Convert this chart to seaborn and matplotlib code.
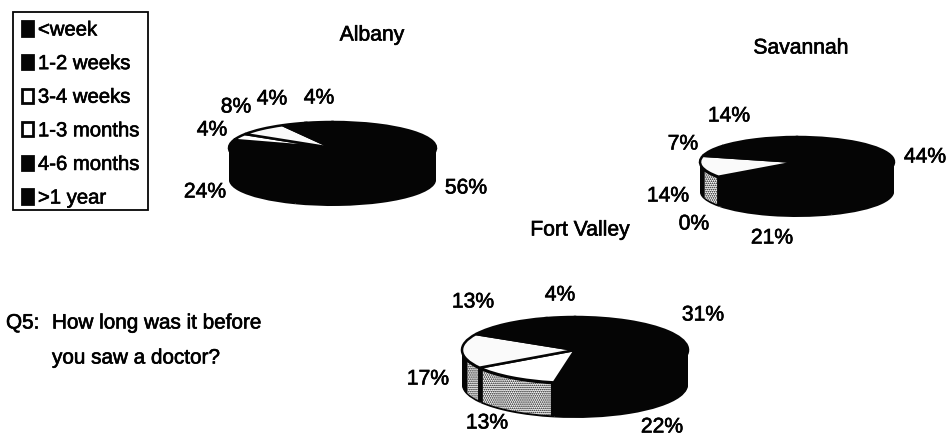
import numpy as np
import matplotlib
matplotlib.use("Agg")
import matplotlib.pyplot as plt
from matplotlib.patches import Patch, Rectangle
import matplotlib.patheffects as pe
import seaborn as sns

categories = ["<week", "1-2 weeks", "3-4 weeks", "1-3 months", "4-6 months", ">1 year"]
albany = [56, 24, 4, 8, 4, 4]
savannah = [44, 21, 0, 14, 7, 14]
fort_valley = [31, 22, 13, 17, 13, 4]

W, H = 947, 438
sns.set_theme(style="white")
plt.rcParams["font.family"] = ["Liberation Sans", "DejaVu Sans"]
plt.rcParams["hatch.linewidth"] = 0.8
fig = plt.figure(figsize=(W / 100, H / 100), dpi=100, facecolor="white")

BLACK = "#050505"
top_palette = sns.color_palette([BLACK, BLACK, "white", "#fafafa", BLACK, BLACK])
FS = 15.2
heavy = [pe.withStroke(linewidth=0.45, foreground="black")]


def pie3d(values, cx, cy, a, b, depth, show_side):
    """Stacked pie drawn through ax.pie; cx, cy, a, b, depth are pixel layout values."""
    pad = depth + 4
    ax = fig.add_axes([(cx - a - 4) / W, 1 - (cy + b + pad) / H,
                       (2 * a + 8) / W, (2 * b + pad + 4) / H])
    for d in np.linspace(depth, 1, int(depth)):
        ax.pie(values, colors=[BLACK] * 6, startangle=90, counterclock=False,
               center=(0, -d / b), radius=1, frame=False,
               wedgeprops={"linewidth": 0})
    if show_side:
        # Stippled side wall for the two light categories, on the visible front half
        edges = 360 * np.cumsum([0] + list(values)) / sum(values)
        for i in (2, 3):
            lo, hi = edges[i], min(edges[i + 1], 255)
            if hi <= lo:
                continue
            th = np.deg2rad(np.linspace(lo + 1.5, hi - 3, 60))
            ax.fill_between(np.sin(th), np.cos(th) - 2 / b, np.cos(th) - (depth - 2) / b,
                            facecolor="white", edgecolor=BLACK, hatch="........", linewidth=0,
                            zorder=3)
    ax.pie(values, colors=top_palette, startangle=90, counterclock=False,
           center=(0, 0), radius=1, frame=False,
           wedgeprops={"linewidth": 1.8, "edgecolor": BLACK, "zorder": 4})
    ax.set_aspect("auto")
    ax.set_xlim(-(a + 4) / a, (a + 4) / a)
    ax.set_ylim(-(b + pad) / b, (b + 4) / b)
    ax.axis("off")
    return ax


pie3d(albany, 332.5, 148, 103.5, 26, 32, False)
pie3d(savannah, 797, 162, 97, 25, 30, True)
pie3d(fort_valley, 575, 350, 113, 33, 35, True)


def txt(x, y, s, ha="center", fs=FS):
    fig.text(x / W, 1 - y / H, s, ha=ha, va="center", fontsize=fs, color="black",
             path_effects=heavy)


# Series titles
txt(372, 35, "Albany")
txt(801, 48, "Savannah")
txt(580, 230, "Fort Valley")

# Percentage labels, in the same order as the values
a_pos = [(466, 188), (205, 192), (212, 130), (236, 107), (272, 99), (319, 98)]
s_pos = [(925, 157), (772, 238), (694, 224), (668, 196), (683, 144), (729, 116)]
f_pos = [(703, 315), (662, 427), (487, 423), (428, 379), (473, 302), (560, 295)]
for vals, pos in ((albany, a_pos), (savannah, s_pos), (fort_valley, f_pos)):
    for v, (x, y) in zip(vals, pos):
        txt(x, y, f"{v}%")

# Question note
txt(6, 323, "Q5:", ha="left", fs=14.9)
txt(52, 323, "How long was it before", ha="left", fs=14.9)
txt(52, 358, "you saw a doctor?", ha="left", fs=14.9)

# Legend
legend_faces = [BLACK, BLACK, "white", "white", BLACK, BLACK]
handles = [Patch(facecolor=c, edgecolor=BLACK, linewidth=2) for c in legend_faces]
leg = fig.legend(handles, categories, loc="upper left",
                 bbox_to_anchor=(13 / W, 1 - 12 / H), bbox_transform=fig.transFigure,
                 fontsize=14.6, frameon=False,
                 handlelength=0.55, handleheight=0.7, handletextpad=0.26,
                 labelspacing=0.72, borderpad=0.42, borderaxespad=0, labelcolor="black")
for t in leg.get_texts():
    t.set_path_effects(heavy)
fig.add_artist(Rectangle((13 / W, 1 - 210 / H), 135 / W, 198 / H, transform=fig.transFigure,
                         facecolor="none", edgecolor=BLACK, linewidth=1.3))

fig.savefig("out.png", dpi=100, facecolor="white")
